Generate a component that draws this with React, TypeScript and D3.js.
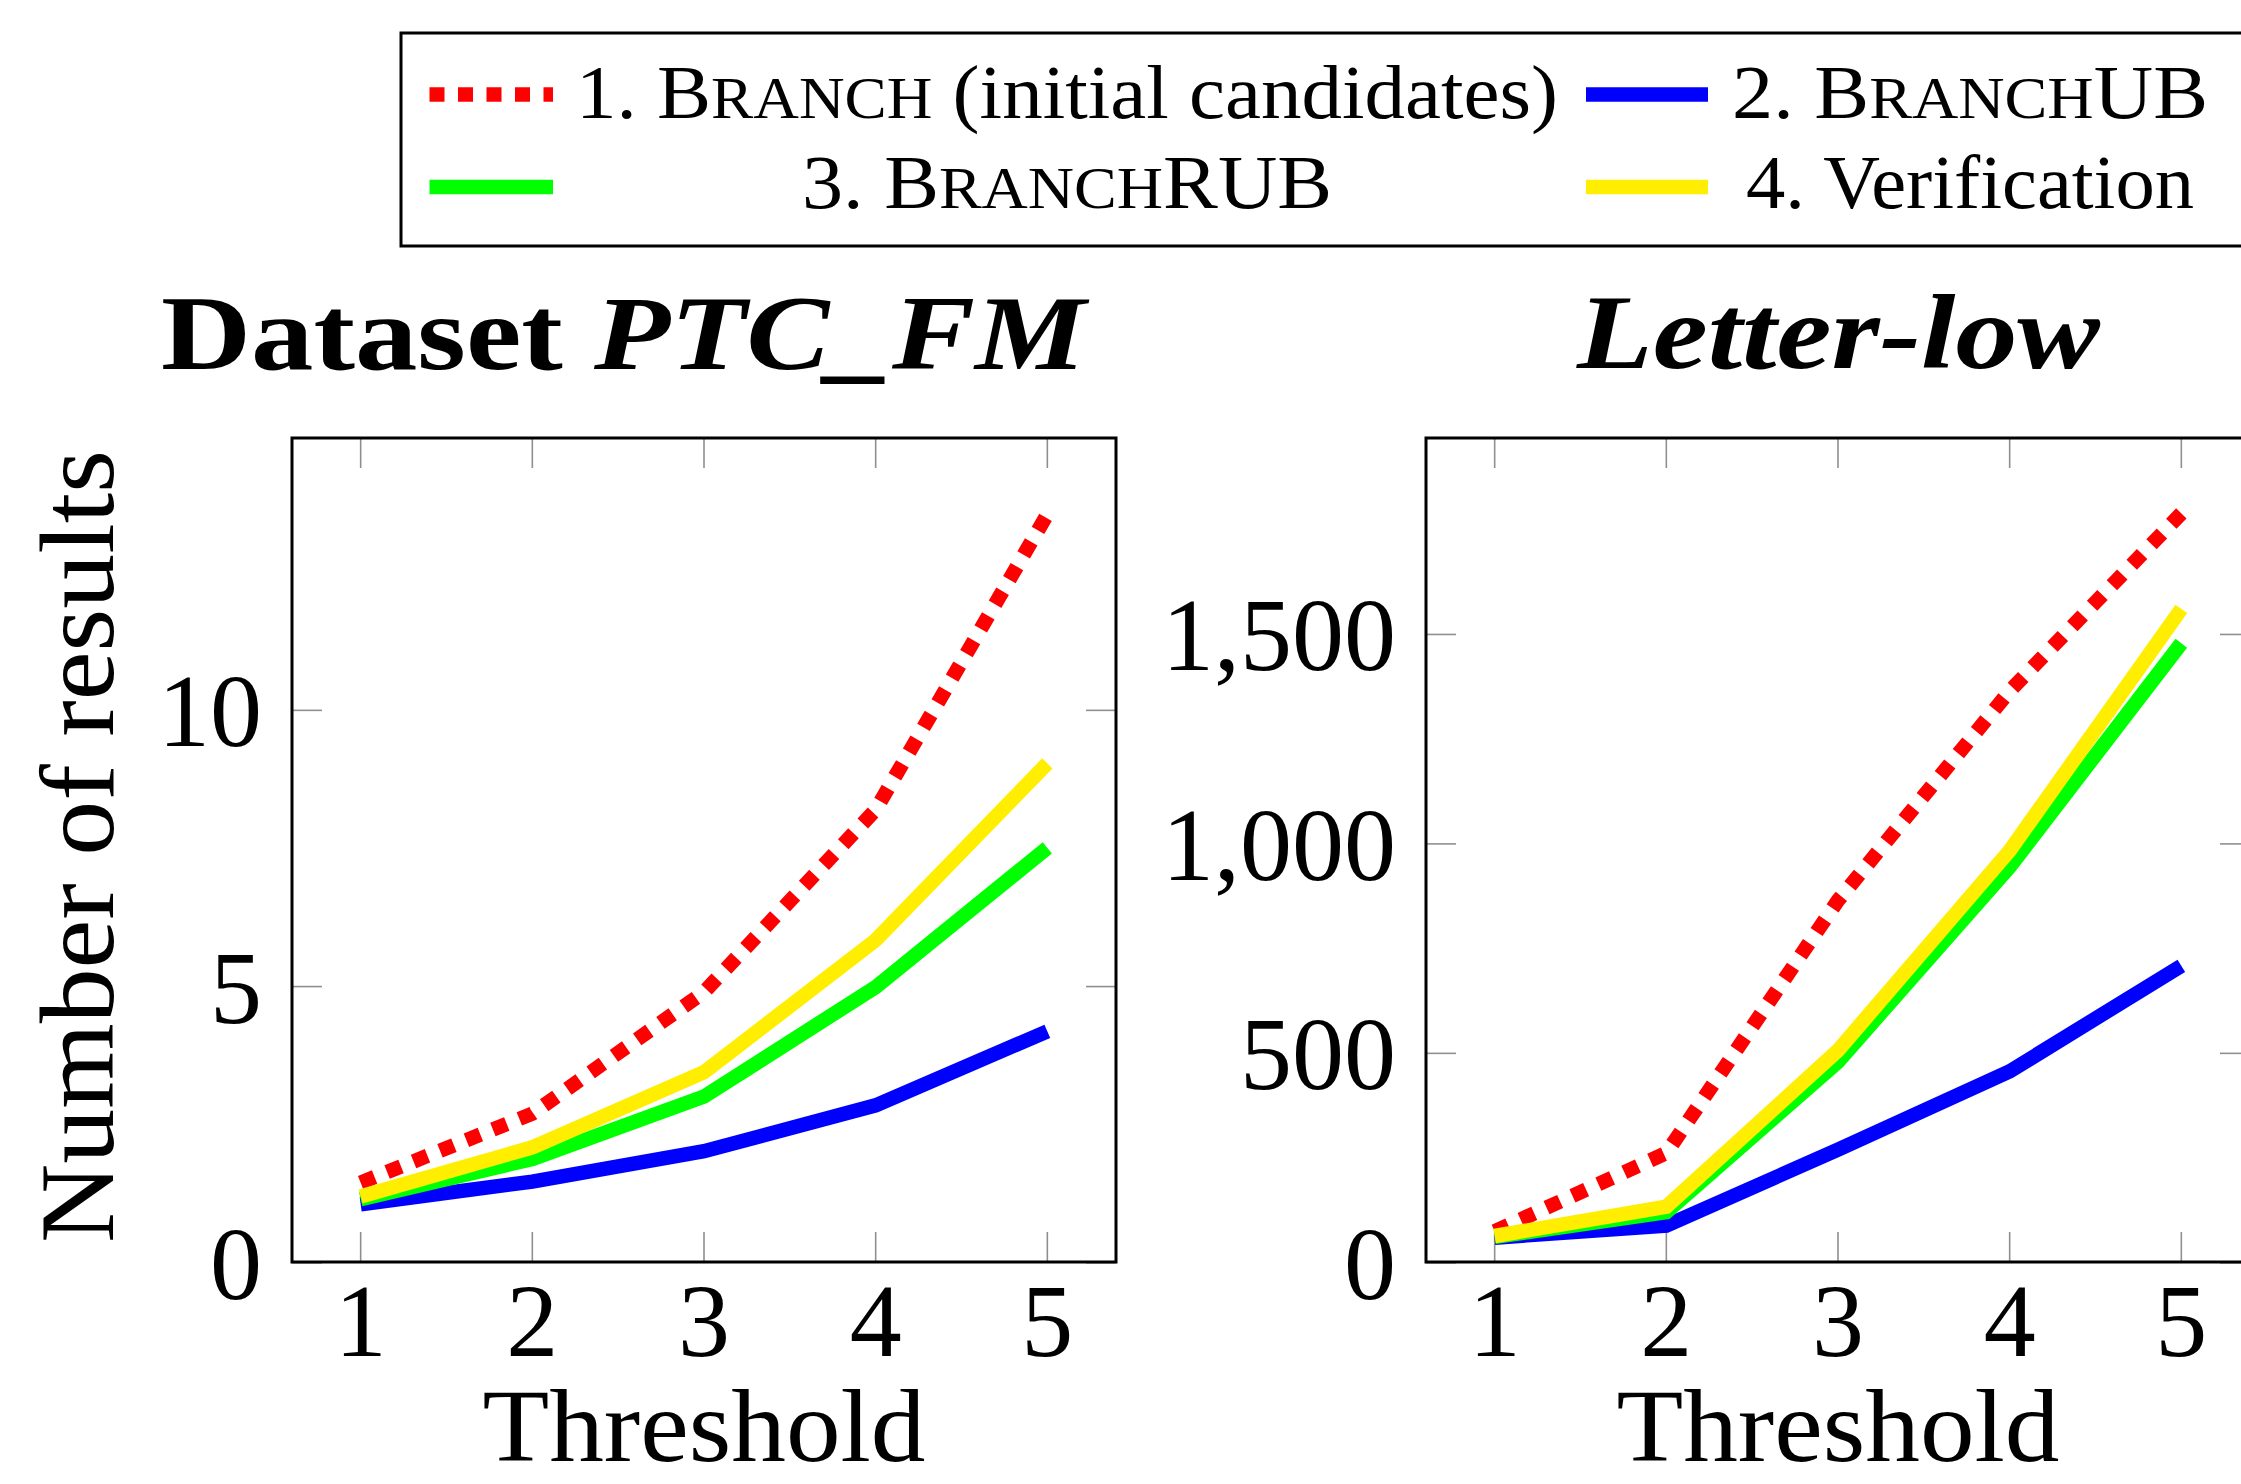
import React, { useEffect } from "react";
import * as d3 from "d3";

// ---------- data ----------
const thresholds = [1, 2, 3, 4, 5];

const ptcBranch = [1.45, 2.7, 4.9, 8.2, 13.55];
const ptcBranchUB = [1.06, 1.47, 2.02, 2.85, 4.19];
const ptcBranchRUB = [1.15, 1.88, 3.01, 4.99, 7.51];
const ptcVerification = [1.2, 2.09, 3.45, 5.84, 9.04];

const letterBranch = [75, 262, 865, 1365, 1789];
const letterBranchUB = [60, 89, 270, 457, 709];
const letterBranchRUB = [62, 121, 480, 945, 1479];
const letterVerification = [64, 134, 507, 984, 1561];

const ptcYTicks = [0, 5, 10];
const letterYTicks = [0, 500, 1000, 1500];

const seriesNames = ["1. Branch (initial candidates)", "2. BranchUB", "3. BranchRUB", "4. Verification"];
const seriesColors = ["#ff0000", "#0000ff", "#00ff00", "#ffee00"];

const FONT = "'Liberation Serif', 'Times New Roman', serif";

type PanelProps = {
  left: number;
  ymax: number;
  yTicks: number[];
  series: number[][];
  title: React.ReactNode;
};

const TOP = 438;
const BOTTOM = 1262;
const WIDTH = 824;
const LW = 14.5;
const DASH = "15 13.5";

function Panel({ left, ymax, yTicks, series, title }: PanelProps) {
  const x = d3.scaleLinear().domain([0.6, 5.4]).range([left, left + WIDTH]);
  const y = d3.scaleLinear().domain([0, ymax]).range([BOTTOM + 0.8, TOP]);
  const line = d3
    .line<number>()
    .x((_, i) => x(thresholds[i]))
    .y((d) => y(d));
  const fmt = d3.format(",");
  const tickLen = 30;
  return (
    <g>
      {title}
      {thresholds.map((t) => (
        <g key={"xt" + t}>
          <line x1={x(t)} x2={x(t)} y1={TOP} y2={TOP + tickLen} stroke="#8f8f8f" strokeWidth={1.6} />
          <line x1={x(t)} x2={x(t)} y1={BOTTOM} y2={BOTTOM - tickLen} stroke="#8f8f8f" strokeWidth={1.6} />
        </g>
      ))}
      {yTicks.map((t) => (
        <g key={"yt" + t}>
          <line x1={left} x2={left + tickLen} y1={y(t)} y2={y(t)} stroke="#8f8f8f" strokeWidth={1.6} />
          <line x1={left + WIDTH} x2={left + WIDTH - tickLen} y1={y(t)} y2={y(t)} stroke="#8f8f8f" strokeWidth={1.6} />
        </g>
      ))}
      {series.map((s, i) => (
        <path
          key={"s" + i}
          d={line(s) || ""}
          fill="none"
          stroke={seriesColors[i]}
          strokeWidth={LW}
          strokeLinejoin="miter"
          strokeLinecap="butt"
          strokeDasharray={i === 0 ? DASH : undefined}
        />
      ))}
      <rect x={left} y={TOP} width={WIDTH} height={BOTTOM - TOP} fill="none" stroke="#000" strokeWidth={3} />
      {thresholds.map((t) => (
        <text key={"xl" + t} x={x(t)} y={1356} textAnchor="middle" fontSize={104} fontFamily={FONT}>
          {t}
        </text>
      ))}
      {yTicks.map((t) => (
        <text key={"yl" + t} x={left - 30} y={y(t) + 36} textAnchor="end" fontSize={104} fontFamily={FONT}>
          {fmt(t)}
        </text>
      ))}
      <text
        x={left + WIDTH / 2}
        y={1461}
        textAnchor="middle"
        fontSize={104}
        fontFamily={FONT}
        textLength={443}
        lengthAdjust="spacingAndGlyphs"
      >
        Threshold
      </text>
    </g>
  );
}

const SC = 0.78;

function LegendLabel({ idx, x, y, len }: { idx: number; x: number; y: number; len: number }) {
  const fs = 76;
  let content: React.ReactNode;
  if (idx === 0)
    content = (
      <>
        <tspan>1. B</tspan>
        <tspan fontSize={fs * SC}>RANCH</tspan>
        <tspan> (initial candidates)</tspan>
      </>
    );
  else if (idx === 1)
    content = (
      <>
        <tspan>2. B</tspan>
        <tspan fontSize={fs * SC}>RANCH</tspan>
        <tspan>UB</tspan>
      </>
    );
  else if (idx === 2)
    content = (
      <>
        <tspan>3. B</tspan>
        <tspan fontSize={fs * SC}>RANCH</tspan>
        <tspan>RUB</tspan>
      </>
    );
  else content = <tspan>4. Verification</tspan>;
  return (
    <text
      x={x}
      y={y}
      textAnchor="middle"
      fontSize={fs}
      fontFamily={FONT}
      textLength={len}
      lengthAdjust="spacingAndGlyphs"
      aria-label={seriesNames[idx]}
    >
      {content}
    </text>
  );
}

export default function App() {
  useEffect(() => {
    document.body.style.margin = "0";
  }, []);

  const W = 2241;
  const H = 1484;

  const legendRows = [
    { y: 94.5, base: 118, items: [0, 1] },
    { y: 187, base: 208, items: [2, 3] },
  ];
  const colLine = [
    [429.5, 553],
    [1586, 1708],
  ];
  const colCenter = [1067, 1970];
  const textLens: Record<number, number> = { 0: 982, 1: 476, 2: 530, 3: 448 };

  return (
    <svg
      width={W}
      height={H}
      viewBox={`0 0 ${W} ${H}`}
      style={{ display: "block", position: "absolute", left: 0, top: 0, background: "#fff" }}
    >
      <rect x={0} y={0} width={W} height={H} fill="#fff" />

      <rect x={401} y={33} width={1900} height={213} fill="#fff" stroke="#000" strokeWidth={3} />
      {legendRows.map((row) =>
        row.items.map((idx, c) => (
          <g key={"leg" + idx}>
            <line
              x1={colLine[c][0]}
              x2={colLine[c][1]}
              y1={row.y}
              y2={row.y}
              stroke={seriesColors[idx]}
              strokeWidth={LW}
              strokeDasharray={idx === 0 ? DASH : undefined}
            />
            <LegendLabel idx={idx} x={colCenter[c]} y={row.base} len={textLens[idx]} />
          </g>
        ))
      )}

      <text
        transform={`translate(113, 846.5) rotate(-90)`}
        textAnchor="middle"
        fontSize={106}
        fontFamily={FONT}
        textLength={793}
        lengthAdjust="spacingAndGlyphs"
      >
        Number of results
      </text>

      <Panel
        left={292}
        ymax={14.93}
        yTicks={ptcYTicks}
        series={[ptcBranch, ptcBranchUB, ptcBranchRUB, ptcVerification]}
        title={
          <text
            x={161}
            y={369}
            fontSize={106}
            fontFamily={FONT}
            fontWeight="bold"
            textLength={925}
            lengthAdjust="spacingAndGlyphs"
          >
            <tspan>Dataset </tspan>
            <tspan fontStyle="italic">PTC_FM</tspan>
          </text>
        }
      />
      <Panel
        left={1426}
        ymax={1969}
        yTicks={letterYTicks}
        series={[letterBranch, letterBranchUB, letterBranchRUB, letterVerification]}
        title={
          <text
            x={1577}
            y={368}
            fontSize={106}
            fontFamily={FONT}
            fontWeight="bold"
            fontStyle="italic"
            textLength={523}
            lengthAdjust="spacingAndGlyphs"
          >
            Letter-low
          </text>
        }
      />
    </svg>
  );
}
